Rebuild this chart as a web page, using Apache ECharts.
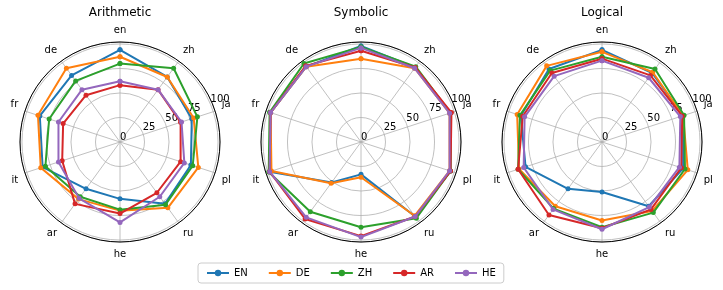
<!DOCTYPE html>
<html><head><meta charset="utf-8">
<script src="https://cdn.jsdelivr.net/npm/echarts@6/dist/echarts.min.js"></script>
<style>html,body{margin:0;padding:0;background:#fff}#c{width:723px;height:290px}</style>
</head><body><div id="c"></div>
<script>
const categories = ['en','zh','ja','pl','ru','he','ar','it','fr','de'];
const seriesNames = ['EN','DE','ZH','AR','HE'];
const colors = ['#1f77b4','#ff7f0e','#2ca02c','#d62728','#9467bd'];
const panelTitles = ['Arithmetic','Symbolic','Logical'];
const radialTicks = [0,25,50,75,100];

const arithmetic = {
  EN: [94,82,77,76,78,58,59,83,86,84],
  DE: [87,82,79,84,83,70,72,85,88,93],
  ZH: [80,93,83,78,79,69,69,80,76,77],
  AR: [58,66,65,65,64,73,78,62,61,59],
  HE: [62,66,66,69,69,82,71,66,66,66]
};
const symbolic = {
  EN: [98,94,96,96,94,33,51,98,97,95],
  DE: [85,93,95,95,93,36,52,96,97,95],
  ZH: [97,95,96,96,96,87,88,99,98,99],
  AR: [93,94,97,96,94,96,97,98,97,96],
  HE: [96,93,95,95,94,97,95,98,97,95]
};
const logical = {
  EN: [94,87,87,87,81,51,59,82,87,92],
  DE: [92,88,87,92,87,80,81,89,91,96],
  ZH: [87,92,88,89,89,87,84,90,88,90],
  AR: [85,84,86,85,85,88,92,90,85,87],
  HE: [83,81,84,83,82,89,85,84,83,83]
};
const panels = [arithmetic, symbolic, logical];

const centersX = [120, 361, 602];
const centerY = 142;
const R = 100;
const RMAX = 102;
const step = 360 / categories.length;
const font = 'DejaVu Sans';

const polar = [], angleAxis = [], radiusAxis = [], series = [], title = [];
panels.forEach((p, i) => {
  const c = [centersX[i], centerY];
  polar.push({center: c, radius: R});
  angleAxis.push({
    polarIndex: 2*i, type: 'value', min: 0, max: 360, interval: step,
    startAngle: 90, clockwise: true,
    axisLine: {show: true, lineStyle: {color: '#000', width: 1}},
    axisTick: {show: false},
    axisLabel: {show: true, margin: 7, color: '#000', fontSize: 10, fontFamily: font,
      formatter: v => (v < 360 ? categories[Math.round(v/step)] : '')},
    splitLine: {show: true, lineStyle: {color: '#b0b0b0', width: 0.8}}
  });
  radiusAxis.push({
    polarIndex: 2*i, type: 'value', min: 0, max: RMAX, interval: 25,
    axisLine: {show: false}, axisTick: {show: false}, axisLabel: {show: false},
    splitLine: {show: true, lineStyle: {color: '#b0b0b0', width: 0.8}}
  });
  polar.push({center: c, radius: R});
  angleAxis.push({
    polarIndex: 2*i+1, type: 'value', min: 0, max: 360, startAngle: 22.5, show: false
  });
  radiusAxis.push({
    polarIndex: 2*i+1, type: 'value', min: 0, max: RMAX, interval: 25,
    axisLine: {show: false}, axisTick: {show: false}, splitLine: {show: false},
    axisLabel: {show: true, color: '#000', fontSize: 10, fontFamily: font, margin: 0,
      align: 'left', verticalAlign: 'bottom',
      formatter: v => (radialTicks.indexOf(v) >= 0 ? String(v) : '')}
  });
  title.push({
    text: panelTitles[i], left: centersX[i] - 5, top: 2, textAlign: 'center',
    textStyle: {fontSize: 12, fontWeight: 'normal', color: '#000', fontFamily: font}
  });
  seriesNames.forEach((name, k) => {
    const vals = p[name];
    const data = vals.map((v, j) => [v, j*step]);
    data.push([vals[0], 360]);
    series.push({
      name: name, type: 'line', coordinateSystem: 'polar', polarIndex: 2*i,
      data: data, symbol: 'circle', symbolSize: 5, showSymbol: true,
      lineStyle: {width: 2, color: colors[k]}, itemStyle: {color: colors[k]},
      emphasis: {disabled: true}, animation: false, z: 3 + k
    });
  });
});

const chart = echarts.init(document.getElementById('c'), null, {renderer: 'canvas'});
chart.setOption({
  animation: false,
  color: colors,
  title: title,
  polar: polar,
  angleAxis: angleAxis,
  radiusAxis: radiusAxis,
  legend: {
    data: seriesNames, left: 198, top: 263, orient: 'horizontal',
    itemWidth: 22, itemHeight: 8, itemGap: 20,
    padding: [5, 8, 5, 8], borderColor: '#cccccc', borderWidth: 1, borderRadius: 3,
    textStyle: {fontSize: 10, fontFamily: font, color: '#000'}
  },
  series: series
});
</script></body></html>
